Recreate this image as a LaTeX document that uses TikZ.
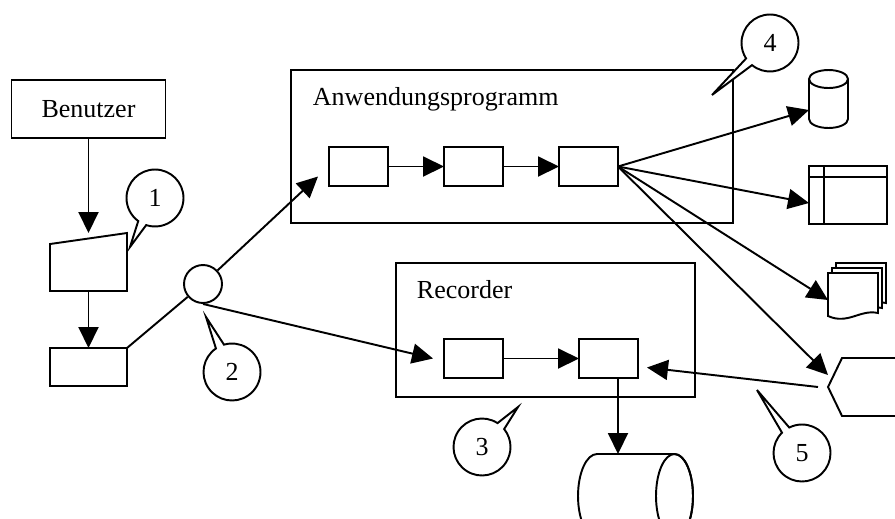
\documentclass[tikz,border=0pt]{standalone}
\usepackage{fontspec}
\setmainfont{Liberation Serif}
\usetikzlibrary{arrows.meta,shapes.callouts,calc}

\begin{document}
\begin{tikzpicture}[
x=0.02cm, y=-0.02cm, line width=1.1pt,
>={Triangle[length=0.42cm,width=0.4cm]},
font=\fontsize{14.8pt}{17pt}\selectfont,
frame/.style={draw, rectangle, inner sep=0pt, outer sep=0pt},
box/.style={frame, minimum width=1.18cm, minimum height=0.78cm},
spot/.style={rectangle, inner sep=0pt, outer sep=0pt},
title/.style={anchor=base west, inner sep=0pt},
note/.style={draw, fill=white, ellipse callout, inner sep=0pt, minimum size=1.14cm, callout pointer arc=18}
]
\clip (0,0) rectangle (895,518);

% left side: user, input, terminal
\node[frame, minimum width=3.08cm, minimum height=1.16cm] (user) at (88.5,109) {Benutzer};
\node[spot, minimum width=1.54cm, minimum height=1.16cm] (input) at (88.5,262) {};
\draw (input.south west) -- (input.south east) -- (input.north east) -- ([yshift=-0.22cm]input.north west) -- cycle;
\node[frame, minimum width=1.54cm, minimum height=0.76cm] (term) at (88.5,367) {};
\node[draw, circle, inner sep=0pt, minimum size=0.76cm] (hub) at (203,284) {};

% application
\node[frame, minimum width=8.84cm, minimum height=3.06cm] (app) at (512,146.5) {};
\node[title] (apptitle) at (312,105) {Anwendungsprogramm};
\node[box] (a1) at (358.5,166.5) {};
\node[box] (a2) at (473.5,166.5) {};
\node[box] (a3) at (588.5,166.5) {};

% recorder
\node[frame, minimum width=5.98cm, minimum height=2.68cm] (rec) at (545.5,330) {};
\node[title] (rectitle) at (416,298) {Recorder};
\node[box] (r1) at (473.5,358.5) {};
\node[box] (r2) at (608.5,358.5) {};

% outputs
\node[spot, minimum width=0.78cm, minimum height=1.16cm] (db) at (828.5,99) {};
\draw ([yshift=-0.18cm]db.north west) -- ([yshift=0.18cm]db.south west)
  arc[start angle=180, end angle=360, x radius=0.39cm, y radius=0.18cm] -- ([yshift=-0.18cm]db.north east);
\draw ([yshift=-0.18cm]db.north) ellipse[x radius=0.39cm, y radius=0.18cm];

\node[frame, minimum width=1.56cm, minimum height=1.16cm] (tab) at (848,195) {};
\draw ([xshift=0.3cm]tab.north west) -- ([xshift=0.3cm]tab.south west);
\draw ([yshift=-0.22cm]tab.north west) -- ([yshift=-0.22cm]tab.north east);

\node[spot, minimum width=1cm, minimum height=0.86cm] (docs) at (853,294.5) {};
\begin{scope}[shift={(docs.north west)}]
\foreach \s in {2,1,0}
  \draw[fill=white, shift={(4*\s,-5*\s)}] (0,0) -- (50,0) -- (50,40) .. controls (32,36) and (20,52) .. (0,43) -- cycle;
\end{scope}

\node[spot, minimum width=1.34cm, minimum height=1.16cm] (disp) at (861.5,387) {};
\draw (disp.west) -- ([xshift=0.28cm]disp.north west) -- (disp.north east)
  arc[start angle=90, end angle=-90, x radius=0.3cm, y radius=0.58cm] -- ([xshift=0.28cm]disp.south west) -- cycle;

\node[spot, minimum width=2.3cm, minimum height=1.68cm] (store) at (635.5,496) {};
\draw ([xshift=0.38cm]store.north west) arc[start angle=90, end angle=270, x radius=0.38cm, y radius=0.84cm]
  -- ([xshift=-0.37cm]store.south east) arc[start angle=-90, end angle=90, x radius=0.37cm, y radius=0.84cm] -- cycle;
\draw ([xshift=-0.37cm]store.east) ellipse[x radius=0.37cm, y radius=0.84cm];

% connectors
\draw[->] (user.south) -- (input.north);
\draw[->] (input.south) -- (term.north);
\draw (term.north east) -- (hub);
\draw[->] (hub) -- ([xshift=-0.22cm,yshift=-0.2cm]a1.west);
\draw[->] (hub.south) -- ([xshift=-0.22cm]r1.west);
\draw[->] (a1) -- (a2);
\draw[->] (a2) -- (a3);
\draw[->] (r1) -- (r2);
\draw[->] (a3.east) -- ([yshift=-0.22cm]db.west);
\draw[->] (a3.east) -- ([yshift=-0.16cm]tab.west);
\draw[->] (a3.east) -- ([yshift=-0.11cm]docs.west);
\draw[->] (a3.east) -- ([yshift=0.24cm]disp.west);
\draw[->] ([xshift=-0.2cm]disp.west) -- ([xshift=0.18cm,yshift=-0.18cm]r2.east);
\draw[->] ($(r2.south)+(9.5,0)$) coordinate (drop) -- (drop |- store.north);

% callouts
\coordinate (p1) at (130,247);
\coordinate (p2) at (206,317);
\coordinate (p3) at (518,407);
\coordinate (p4) at (712,95);
\coordinate (p5) at (757,390);
\node[note, callout absolute pointer={(p1)}] (c1) at (155,198) {1};
\node[note, callout absolute pointer={(p2)}] (c2) at (232,372) {2};
\node[note, callout absolute pointer={(p3)}] (c3) at (482,447) {3};
\node[note, callout absolute pointer={(p4)}] (c4) at (770,43) {4};
\node[note, callout absolute pointer={(p5)}] (c5) at (802,453) {5};
\end{tikzpicture}
\end{document}
